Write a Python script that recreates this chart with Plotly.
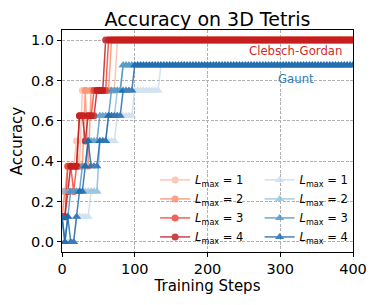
import plotly.graph_objects as go

steps = list(range(0, 401, 4))

cg_l1 = [0.125, 0.25, 0.25, 0.375, 0.375, 0.5, 0.375, 0.75, 0.75, 0.75,
         0.75, 0.75, 0.75, 0.75, 0.75, 0.75, 0.75, 0.75, 0.75, 1.0,
         1.0, 1.0, 1.0, 1.0, 1.0, 1.0, 1.0, 1.0, 1.0, 1.0,
         1.0, 1.0, 1.0, 1.0, 1.0, 1.0, 1.0, 1.0, 1.0, 1.0,
         1.0, 1.0, 1.0, 1.0, 1.0, 1.0, 1.0, 1.0, 1.0, 1.0,
         1.0, 1.0, 1.0, 1.0, 1.0, 1.0, 1.0, 1.0, 1.0, 1.0,
         1.0, 1.0, 1.0, 1.0, 1.0, 1.0, 1.0, 1.0, 1.0, 1.0,
         1.0, 1.0, 1.0, 1.0, 1.0, 1.0, 1.0, 1.0, 1.0, 1.0,
         1.0, 1.0, 1.0, 1.0, 1.0, 1.0, 1.0, 1.0, 1.0, 1.0,
         1.0, 1.0, 1.0, 1.0, 1.0, 1.0, 1.0, 1.0, 1.0, 1.0,
         1.0]
cg_l2 = [0.125, 0.25, 0.375, 0.375, 0.375, 0.375, 0.375, 0.375, 0.75, 0.375,
         0.75, 0.75, 0.75, 0.75, 0.75, 0.75, 0.75, 1.0, 1.0, 1.0,
         1.0, 1.0, 1.0, 1.0, 1.0, 1.0, 1.0, 1.0, 1.0, 1.0,
         1.0, 1.0, 1.0, 1.0, 1.0, 1.0, 1.0, 1.0, 1.0, 1.0,
         1.0, 1.0, 1.0, 1.0, 1.0, 1.0, 1.0, 1.0, 1.0, 1.0,
         1.0, 1.0, 1.0, 1.0, 1.0, 1.0, 1.0, 1.0, 1.0, 1.0,
         1.0, 1.0, 1.0, 1.0, 1.0, 1.0, 1.0, 1.0, 1.0, 1.0,
         1.0, 1.0, 1.0, 1.0, 1.0, 1.0, 1.0, 1.0, 1.0, 1.0,
         1.0, 1.0, 1.0, 1.0, 1.0, 1.0, 1.0, 1.0, 1.0, 1.0,
         1.0, 1.0, 1.0, 1.0, 1.0, 1.0, 1.0, 1.0, 1.0, 1.0,
         1.0]
cg_l3 = [0.125, 0.125, 0.375, 0.375, 0.25, 0.375, 0.625, 0.625, 0.625, 0.625,
         0.625, 0.75, 0.75, 0.75, 0.75, 0.75, 1.0, 1.0, 1.0, 1.0,
         1.0, 1.0, 1.0, 1.0, 1.0, 1.0, 1.0, 1.0, 1.0, 1.0,
         1.0, 1.0, 1.0, 1.0, 1.0, 1.0, 1.0, 1.0, 1.0, 1.0,
         1.0, 1.0, 1.0, 1.0, 1.0, 1.0, 1.0, 1.0, 1.0, 1.0,
         1.0, 1.0, 1.0, 1.0, 1.0, 1.0, 1.0, 1.0, 1.0, 1.0,
         1.0, 1.0, 1.0, 1.0, 1.0, 1.0, 1.0, 1.0, 1.0, 1.0,
         1.0, 1.0, 1.0, 1.0, 1.0, 1.0, 1.0, 1.0, 1.0, 1.0,
         1.0, 1.0, 1.0, 1.0, 1.0, 1.0, 1.0, 1.0, 1.0, 1.0,
         1.0, 1.0, 1.0, 1.0, 1.0, 1.0, 1.0, 1.0, 1.0, 1.0,
         1.0]
cg_l4 = [0.125, 0.125, 0.25, 0.375, 0.375, 0.375, 0.625, 0.625, 0.5, 0.625,
         0.625, 0.625, 0.75, 0.75, 0.75, 1.0, 1.0, 1.0, 1.0, 1.0,
         1.0, 1.0, 1.0, 1.0, 1.0, 1.0, 1.0, 1.0, 1.0, 1.0,
         1.0, 1.0, 1.0, 1.0, 1.0, 1.0, 1.0, 1.0, 1.0, 1.0,
         1.0, 1.0, 1.0, 1.0, 1.0, 1.0, 1.0, 1.0, 1.0, 1.0,
         1.0, 1.0, 1.0, 1.0, 1.0, 1.0, 1.0, 1.0, 1.0, 1.0,
         1.0, 1.0, 1.0, 1.0, 1.0, 1.0, 1.0, 1.0, 1.0, 1.0,
         1.0, 1.0, 1.0, 1.0, 1.0, 1.0, 1.0, 1.0, 1.0, 1.0,
         1.0, 1.0, 1.0, 1.0, 1.0, 1.0, 1.0, 1.0, 1.0, 1.0,
         1.0, 1.0, 1.0, 1.0, 1.0, 1.0, 1.0, 1.0, 1.0, 1.0,
         1.0]

gaunt_l1 = [0.125, 0.0, 0.0, 0.0, 0.0, 0.125, 0.125, 0.125, 0.125, 0.125,
            0.25, 0.25, 0.25, 0.5, 0.5, 0.5, 0.5, 0.5, 0.5, 0.625,
            0.625, 0.625, 0.625, 0.625, 0.625, 0.75, 0.75, 0.75, 0.75, 0.75,
            0.75, 0.75, 0.75, 0.75, 0.875, 0.875, 0.875, 0.875, 0.875, 0.875,
            0.875, 0.875, 0.875, 0.875, 0.875, 0.875, 0.875, 0.875, 0.875, 0.875,
            0.875, 0.875, 0.875, 0.875, 0.875, 0.875, 0.875, 0.875, 0.875, 0.875,
            0.875, 0.875, 0.875, 0.875, 0.875, 0.875, 0.875, 0.875, 0.875, 0.875,
            0.875, 0.875, 0.875, 0.875, 0.875, 0.875, 0.875, 0.875, 0.875, 0.875,
            0.875, 0.875, 0.875, 0.875, 0.875, 0.875, 0.875, 0.875, 0.875, 0.875,
            0.875, 0.875, 0.875, 0.875, 0.875, 0.875, 0.875, 0.875, 0.875, 0.875,
            0.875]
gaunt_l2 = [0.25, 0.25, 0.25, 0.25, 0.25, 0.25, 0.25, 0.25, 0.25, 0.25,
            0.25, 0.25, 0.25, 0.5, 0.5, 0.5, 0.625, 0.625, 0.625, 0.75,
            0.75, 0.875, 0.875, 0.875, 0.875, 0.875, 0.875, 0.875, 0.875, 0.875,
            0.875, 0.875, 0.875, 0.875, 0.875, 0.875, 0.875, 0.875, 0.875, 0.875,
            0.875, 0.875, 0.875, 0.875, 0.875, 0.875, 0.875, 0.875, 0.875, 0.875,
            0.875, 0.875, 0.875, 0.875, 0.875, 0.875, 0.875, 0.875, 0.875, 0.875,
            0.875, 0.875, 0.875, 0.875, 0.875, 0.875, 0.875, 0.875, 0.875, 0.875,
            0.875, 0.875, 0.875, 0.875, 0.875, 0.875, 0.875, 0.875, 0.875, 0.875,
            0.875, 0.875, 0.875, 0.875, 0.875, 0.875, 0.875, 0.875, 0.875, 0.875,
            0.875, 0.875, 0.875, 0.875, 0.875, 0.875, 0.875, 0.875, 0.875, 0.875,
            0.875]
gaunt_l3 = [0.125, 0.0, 0.125, 0.25, 0.25, 0.25, 0.25, 0.375, 0.375, 0.5,
            0.5, 0.5, 0.5, 0.625, 0.625, 0.625, 0.625, 0.75, 0.75, 0.75,
            0.75, 0.875, 0.875, 0.875, 0.875, 0.875, 0.875, 0.875, 0.875, 0.875,
            0.875, 0.875, 0.875, 0.875, 0.875, 0.875, 0.875, 0.875, 0.875, 0.875,
            0.875, 0.875, 0.875, 0.875, 0.875, 0.875, 0.875, 0.875, 0.875, 0.875,
            0.875, 0.875, 0.875, 0.875, 0.875, 0.875, 0.875, 0.875, 0.875, 0.875,
            0.875, 0.875, 0.875, 0.875, 0.875, 0.875, 0.875, 0.875, 0.875, 0.875,
            0.875, 0.875, 0.875, 0.875, 0.875, 0.875, 0.875, 0.875, 0.875, 0.875,
            0.875, 0.875, 0.875, 0.875, 0.875, 0.875, 0.875, 0.875, 0.875, 0.875,
            0.875, 0.875, 0.875, 0.875, 0.875, 0.875, 0.875, 0.875, 0.875, 0.875,
            0.875]
gaunt_l4 = [0.125, 0.0, 0.125, 0.0, 0.0, 0.125, 0.25, 0.25, 0.375, 0.5,
            0.375, 0.375, 0.375, 0.5, 0.5, 0.5, 0.625, 0.625, 0.625, 0.625,
            0.625, 0.75, 0.75, 0.75, 0.75, 0.875, 0.875, 0.875, 0.875, 0.875,
            0.875, 0.875, 0.875, 0.875, 0.875, 0.875, 0.875, 0.875, 0.875, 0.875,
            0.875, 0.875, 0.875, 0.875, 0.875, 0.875, 0.875, 0.875, 0.875, 0.875,
            0.875, 0.875, 0.875, 0.875, 0.875, 0.875, 0.875, 0.875, 0.875, 0.875,
            0.875, 0.875, 0.875, 0.875, 0.875, 0.875, 0.875, 0.875, 0.875, 0.875,
            0.875, 0.875, 0.875, 0.875, 0.875, 0.875, 0.875, 0.875, 0.875, 0.875,
            0.875, 0.875, 0.875, 0.875, 0.875, 0.875, 0.875, 0.875, 0.875, 0.875,
            0.875, 0.875, 0.875, 0.875, 0.875, 0.875, 0.875, 0.875, 0.875, 0.875,
            0.875]

lmax_labels = ["1", "2", "3", "4"]
cg_series = [cg_l1, cg_l2, cg_l3, cg_l4]
gaunt_series = [gaunt_l1, gaunt_l2, gaunt_l3, gaunt_l4]
cg_colors = ["#fcbba1", "#fc8a6a", "#ef3b2c", "#bc141a"]
gaunt_colors = ["#c6dbef", "#8fc1de", "#4292c6", "#1763aa"]

FONT = "DejaVu Sans"
fig = go.Figure()

for lab, ys, col in zip(lmax_labels, cg_series, cg_colors):
    fig.add_trace(go.Scatter(
        x=steps, y=ys, mode="lines+markers",
        name=f"<i>L</i><sub>max</sub> = {lab}",
        line=dict(color=col, width=1.5),
        marker=dict(symbol="circle", size=7, color=col),
        opacity=0.8, legend="legend"))

for lab, ys, col in zip(lmax_labels, gaunt_series, gaunt_colors):
    fig.add_trace(go.Scatter(
        x=steps, y=ys, mode="lines+markers",
        name=f"<i>L</i><sub>max</sub> = {lab}",
        line=dict(color=col, width=1.5),
        marker=dict(symbol="triangle-up", size=8, color=col),
        opacity=0.8, legend="legend2"))

fig.add_annotation(x=321, y=0.944, text="Clebsch-Gordan", showarrow=False,
                   font=dict(family=FONT, size=11.7, color="#d42a2a"))
fig.add_annotation(x=321, y=0.808, text="Gaunt", showarrow=False,
                   font=dict(family=FONT, size=11.7, color="#2f7bbd"))

axis_common = dict(
    showline=True, linecolor="black", linewidth=1, mirror=True,
    ticks="outside", ticklen=4, tickcolor="black", automargin=False,
    showgrid=True, gridcolor="#b0b0b0", griddash="3px,1.5px", gridwidth=0.8,
    zeroline=False, tickfont=dict(family=FONT, size=14.5, color="black"),
)

fig.update_xaxes(range=[0, 400], tickvals=[0, 100, 200, 300, 400],
                 title=dict(text="Training Steps", font=dict(family=FONT, size=15, color="black"), standoff=3),
                 **axis_common)
fig.update_yaxes(range=[-0.05, 1.05], tickvals=[0, 0.2, 0.4, 0.6, 0.8, 1.0],
                 tickformat=".1f",
                 title=dict(text="Accuracy", font=dict(family=FONT, size=15, color="black"), standoff=6),
                 **axis_common)

legend_common = dict(bgcolor="rgba(0,0,0,0)", font=dict(family=FONT, size=11.5, color="black"),
                     yanchor="top", xanchor="left", tracegroupgap=0, itemwidth=30)

# the page body adds an 8px offset; the figure is sized to the remaining area
fig.update_layout(
    width=370, height=297,
    margin=dict(l=54, r=25, t=22, b=53, autoexpand=False),
    paper_bgcolor="white", plot_bgcolor="white",
    title=dict(text="Accuracy on 3D Tetris", x=0.5, xref="paper", y=0.962, yref="container",
               yanchor="middle", font=dict(family=FONT, size=19, color="black")),
    legend=dict(x=0.32, y=0.39, **legend_common),
    legend2=dict(x=0.679, y=0.39, **legend_common),
    showlegend=True,
)

fig.write_html("out.html")
